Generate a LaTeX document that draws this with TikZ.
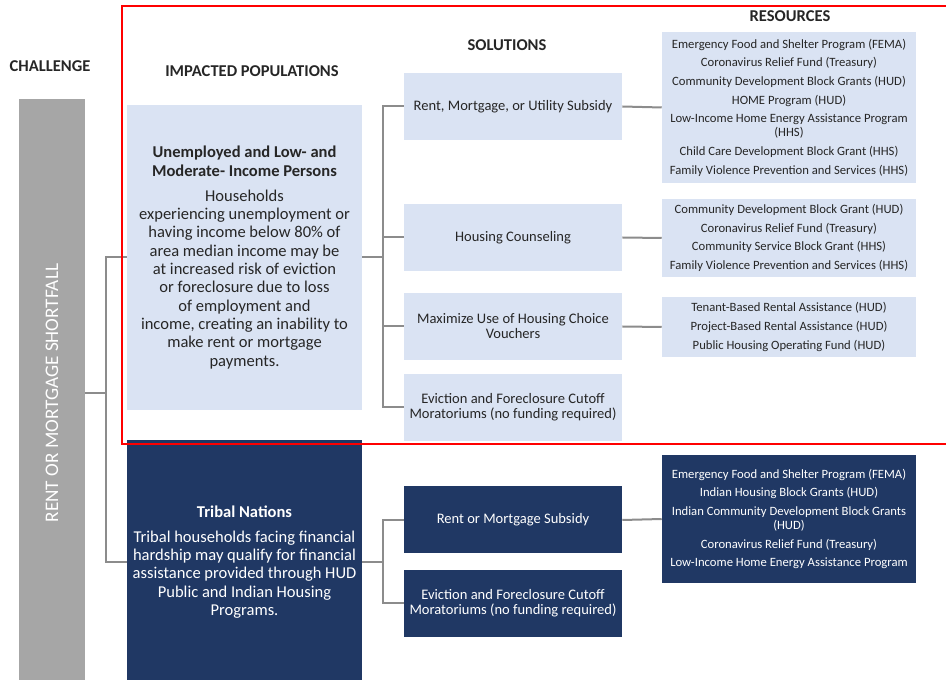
\documentclass[tikz,border=0pt]{standalone}
\usepackage{fontspec}
\setmainfont{Carlito}
\usetikzlibrary{calc}
\definecolor{paleblue}{HTML}{DAE3F3}
\definecolor{navy}{HTML}{203864}
\definecolor{bargray}{HTML}{A6A6A6}
\definecolor{linkgray}{HTML}{8C8C8C}
\definecolor{ink}{HTML}{262626}
\tikzstyle{heading}=[font=\fontsize{12.4}{14}\selectfont\bfseries, text=ink]
\tikzstyle{popbox}=[minimum width=176.25pt, align=center, inner sep=0pt, font=\fontsize{12.4}{13.75}\selectfont]
\tikzstyle{solbox}=[minimum width=163.5pt, minimum height=50.25pt, align=center, inner sep=0pt, font=\fontsize{10.9}{11.25}\selectfont]
\tikzstyle{resbox}=[minimum width=190.5pt, align=center, inner sep=0pt, font=\fontsize{9.5}{10.5}\selectfont]
\tikzstyle{pale}=[fill=paleblue, text=ink]
\tikzstyle{dark}=[fill=navy, text=white]
\tikzstyle{link}=[draw=linkgray, line width=1.5pt]

\begin{document}
\begin{tikzpicture}[x=0.75pt, y=-0.75pt]
    \useasboundingbox (0,0) rectangle (946,680);

    % column headings
    \node[heading] (hchal) at (50,66) {CHALLENGE};
    \node[heading] (hpop) at (252,71) {IMPACTED POPULATIONS};
    \node[heading] (hsol) at (507,45) {SOLUTIONS};
    \node[heading] (hres) at (790,16) {RESOURCES};

    % challenge bar
    \node[fill=bargray, minimum width=49.5pt, minimum height=441pt, inner sep=0pt] (chal) at (52,393) {};
    \node[rotate=90, text=white, font=\fontsize{14.4}{16}\selectfont] at (chal) {RENT OR MORTGAGE SHORTFALL};

    % impacted populations
    \node[popbox, pale, minimum height=228.75pt] (pop1) at (244.5,257.5)
        {\textbf{Unemployed and Low- and}\\ \textbf{Moderate- Income Persons}\\[5pt]
         Households\\ experiencing unemployment or\\ having income below 80\% of\\
         area median income may be\\ at increased risk of eviction\\ or foreclosure due to loss\\
         of employment and\\ income, creating an inability to\\ make rent or mortgage\\ payments.};
    \node[popbox, dark, minimum height=183pt] (pop2) at (244.5,562)
        {\textbf{Tribal Nations}\\[5pt]
         Tribal households facing financial\\ hardship may qualify for financial\\
         assistance provided through HUD\\ Public and Indian Housing\\ Programs.};

    % solutions
    \node[solbox, pale] (sol1) at (513,106.5) {Rent, Mortgage, or Utility Subsidy};
    \node[solbox, pale] (sol2) at (513,237.5) {Housing Counseling};
    \node[solbox, pale] (sol3) at (513,326.5) {Maximize Use of Housing Choice\\ Vouchers};
    \node[solbox, pale] (sol4) at (513,407.5) {Eviction and Foreclosure Cutoff\\ Moratoriums (no funding required)};
    \node[solbox, dark] (tsol1) at (513,520) {Rent or Mortgage Subsidy};
    \node[solbox, dark] (tsol2) at (513,603) {Eviction and Foreclosure Cutoff\\ Moratoriums (no funding required)};

    % resources
    \node[resbox, pale, minimum height=113.25pt] (res1) at (789,107.5)
        {Emergency Food and Shelter Program (FEMA)\\[3.5pt] Coronavirus Relief Fund (Treasury)\\[3.5pt]
         Community Development Block Grants (HUD)\\[3.5pt] HOME Program (HUD)\\[3.5pt]
         Low-Income Home Energy Assistance Program\\ (HHS)\\[3.5pt]
         Child Care Development Block Grant (HHS)\\[3.5pt] Family Violence Prevention and Services (HHS)};
    \node[resbox, pale, minimum height=58.5pt] (res2) at (789,238)
        {Community Development Block Grant (HUD)\\[3.5pt] Coronavirus Relief Fund (Treasury)\\[3.5pt]
         Community Service Block Grant (HHS)\\[3.5pt] Family Violence Prevention and Services (HHS)};
    \node[resbox, pale, minimum height=45pt] (res3) at (789,327)
        {Tenant-Based Rental Assistance (HUD)\\[3.5pt] Project-Based Rental Assistance (HUD)\\[3.5pt]
         Public Housing Operating Fund (HUD)};
    \node[resbox, dark, minimum height=96pt] (tres) at (789,519)
        {Emergency Food and Shelter Program (FEMA)\\[3.5pt] Indian Housing Block Grants (HUD)\\[3.5pt]
         Indian Community Development Block Grants\\ (HUD)\\[3.5pt]
         Coronavirus Relief Fund (Treasury)\\[3.5pt] Low-Income Home Energy Assistance Program};

    % connectors
    \coordinate (j0) at (106,393);
    \coordinate (j1) at (383,257.5);
    \coordinate (j2) at (383,562);
    \path[link] (chal.east) -- (j0);
    \foreach \dest in {pop1, pop2}
        \path[link] (j0) |- (\dest.west);
    \path[link] (pop1.east) -- (j1);
    \foreach \dest in {sol1, sol2, sol3, sol4}
        \path[link] (j1) |- (\dest.west);
    \path[link] (pop2.east) -- (j2);
    \foreach \dest in {tsol1, tsol2}
        \path[link] (j2) |- (\dest.west);
    \foreach \source/\dest in {sol1/res1, sol2/res2, sol3/res3, tsol1/tres}
        \path[link] (\source.east) -- (\dest.west);

    % highlight frame
    \draw[red, line width=1.5pt] (122,6) rectangle (952,444);
\end{tikzpicture}
\end{document}
